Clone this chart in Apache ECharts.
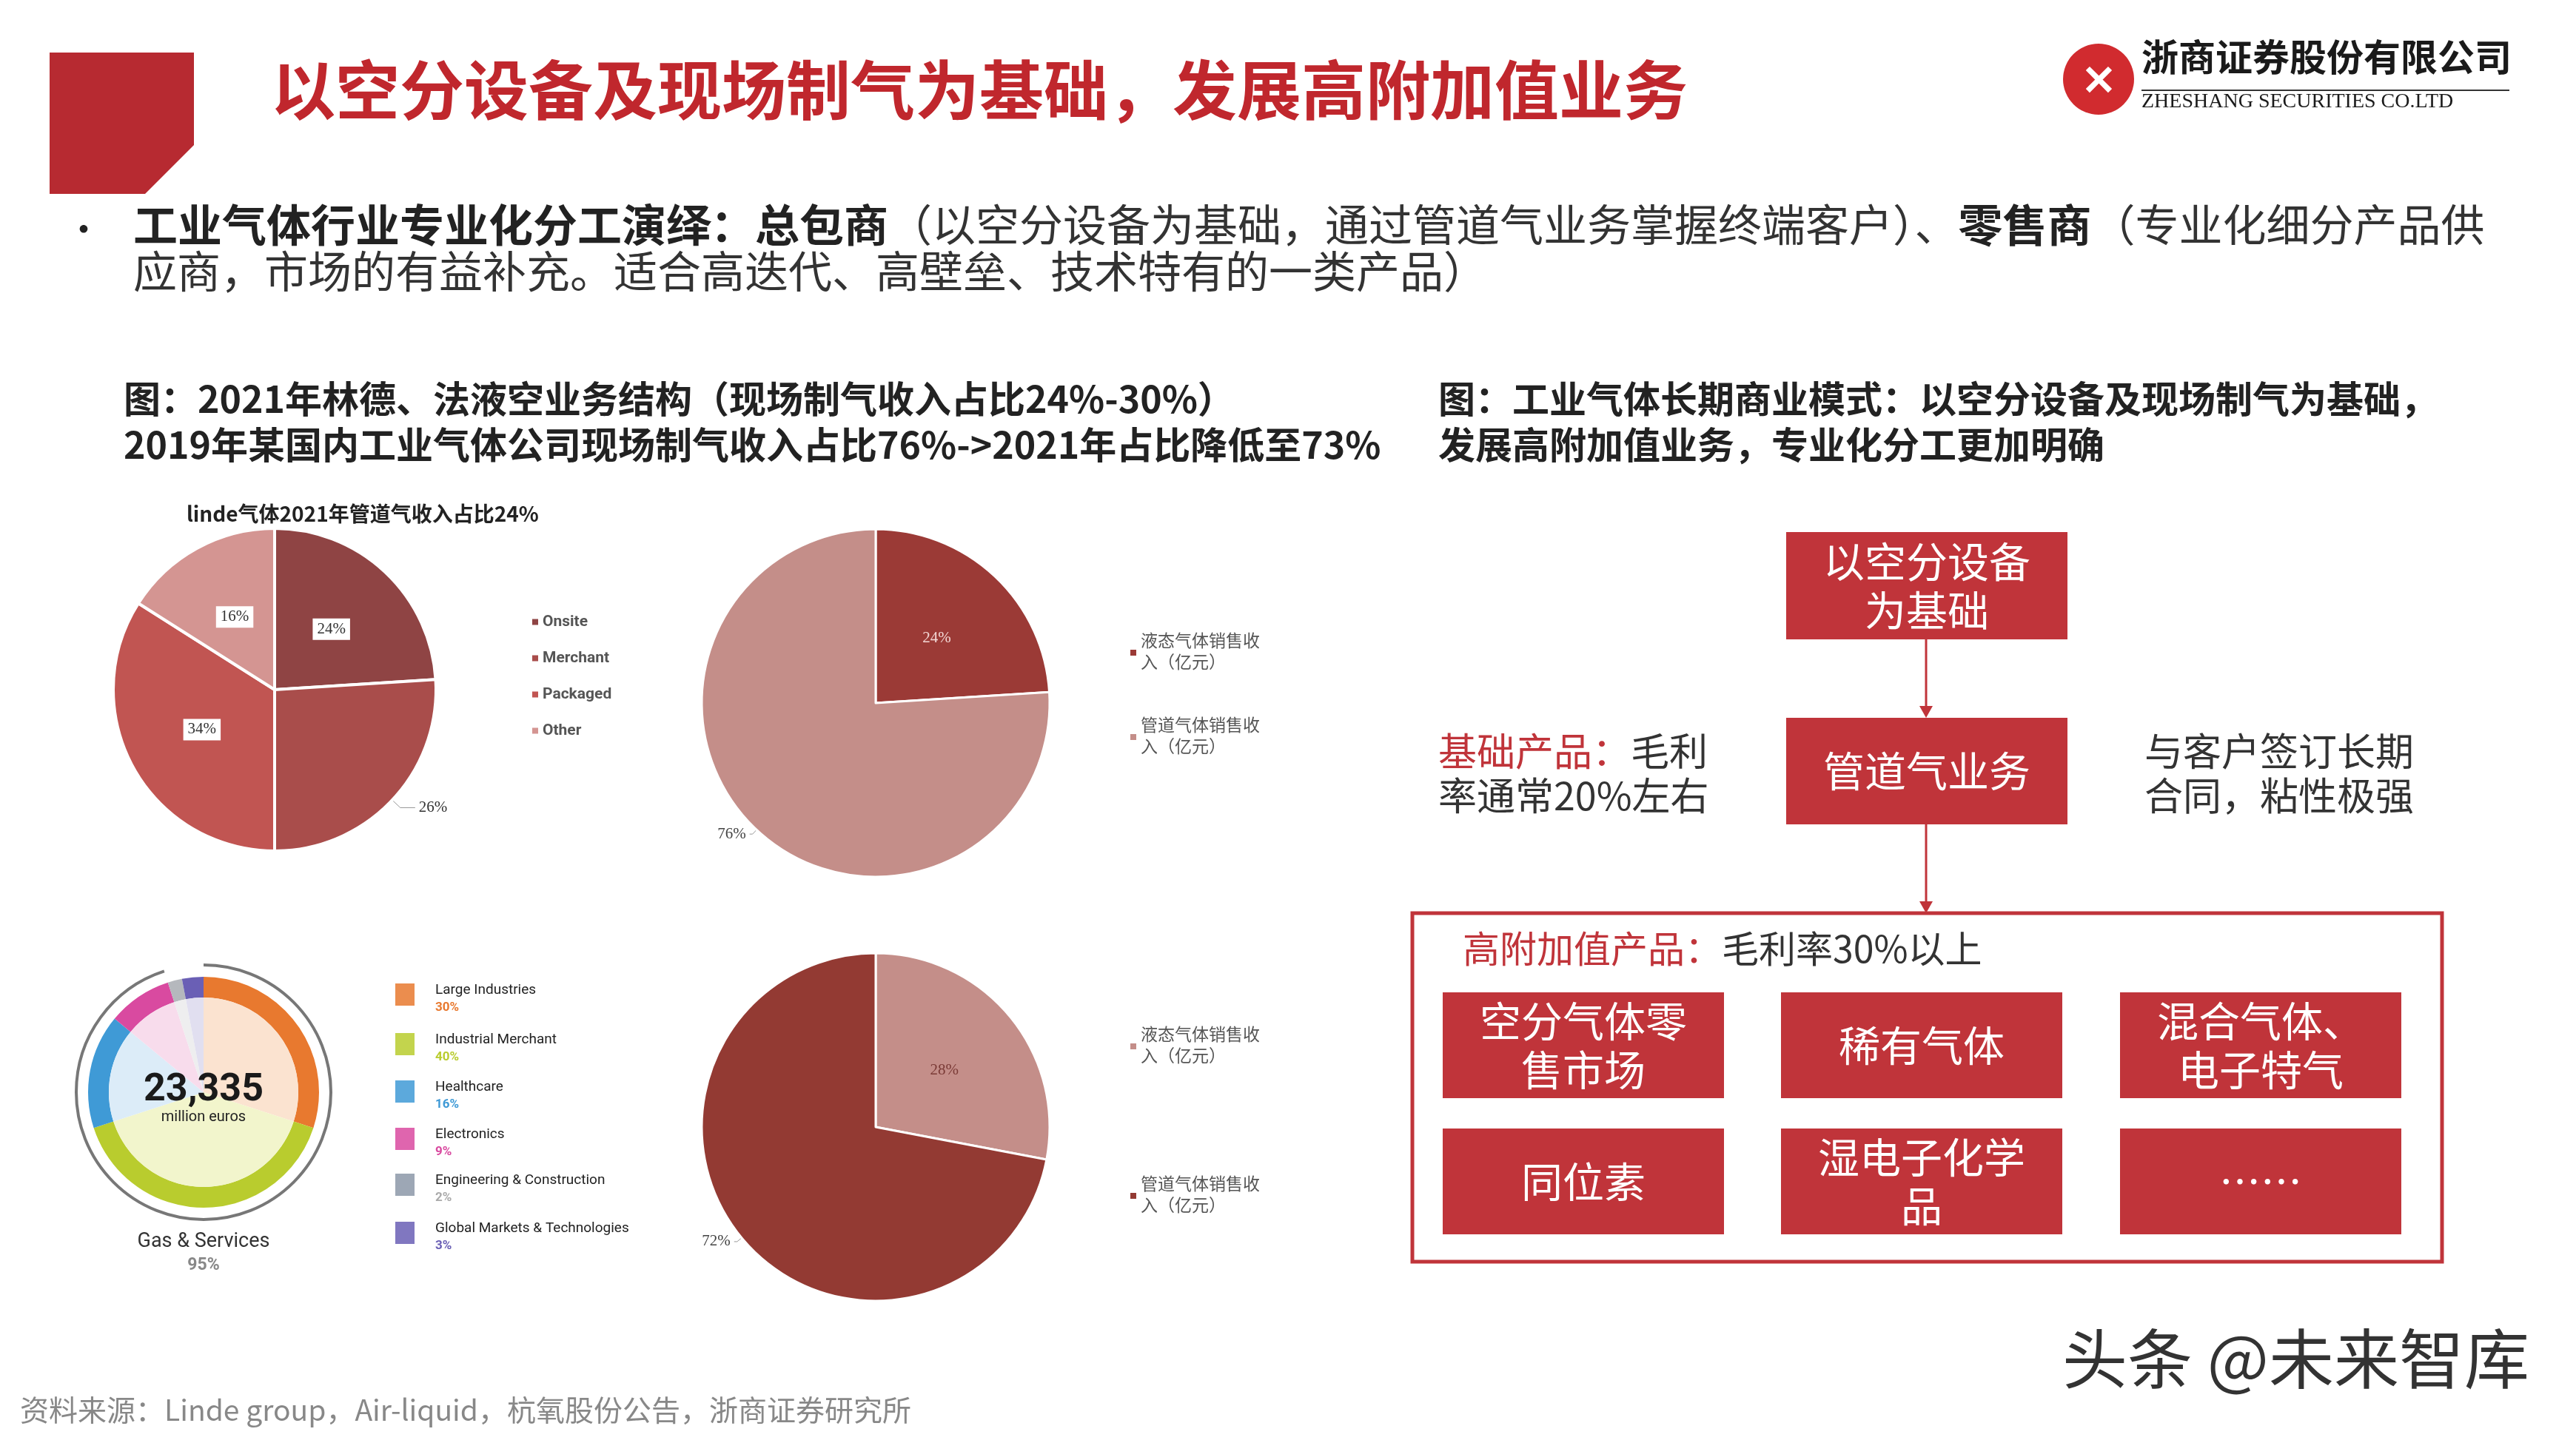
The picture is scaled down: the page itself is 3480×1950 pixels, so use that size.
<!DOCTYPE html>
<html><head><meta charset="utf-8">
<script src="https://cdn.jsdelivr.net/npm/echarts@6/dist/echarts.min.js"></script>
<style>html,body{margin:0;padding:0;background:#fff}#c{width:3480px;height:1950px}</style>
</head><body><div id="c"></div>
<script>
const lindeNames=['Onsite','Merchant','Packaged','Other'];
const lindeValues=[24,26,34,16];
const pie2Names=['液态气体销售收\n入（亿元）','管道气体销售收\n入（亿元）'];
const pie2Values=[24,76];
const pie3Names=['液态气体销售收\n入（亿元） ','管道气体销售收\n入（亿元） '];
const pie3Values=[28,72];
const alNames=['Large Industries','Industrial Merchant','Healthcare','Electronics','Engineering & Construction','Global Markets & Technologies'];
const alValues=[30,40,16,9,2,3];
const subBoxes=['空分气体零\n售市场','稀有气体','混合气体、\n电子特气','同位素','湿电子化学\n品','……'];

const RED='#c0343a';
const cjk='"Noto Sans CJK SC", sans-serif';
const serif='"Liberation Serif", "Noto Sans CJK SC", serif';
const chart=echarts.init(document.getElementById('c'));
const alColors=['#e8792f','#b9cc2e','#3f9ad6','#d94aa0','#b5b8bd','#6a5fb5'];
const alPale=['#fbe3d0','#f2f5cc','#dcecf8','#f8dcec','#eeeeef','#e1dff0'];

const g=[];
g.push({type:'polygon',shape:{points:[[67,71],[262,71],[262,196],[196,262],[67,262]]},style:{fill:'#b72a31'}});
g.push({type:'text',left:366,top:78,style:{text:'以空分设备及现场制气为基础，发展高附加值业务',fill:'#c0272d',font:'bold 87px '+cjk}});
// logo
g.push({type:'circle',shape:{cx:2835,cy:107,r:48},style:{fill:'#d12b2f'}});
g.push({type:'text',x:2835,y:107,style:{text:'✕',fill:'#fff',font:'bold 56px '+cjk,align:'center',verticalAlign:'middle'}});
g.push({type:'text',left:2893,top:58,style:{text:'浙商证券股份有限公司',fill:'#1a1a1a',font:'bold 50px '+serif}});
g.push({type:'line',shape:{x1:2893,y1:122,x2:3390,y2:122},style:{stroke:'#333',lineWidth:2}});
g.push({type:'text',left:2893,top:124,style:{text:'ZHESHANG SECURITIES CO.LTD',fill:'#1a1a1a',font:'28px '+serif}});
// bullet
g.push({type:'text',left:88,top:284,style:{text:'•',fill:'#222',font:'50px '+cjk}});
g.push({type:'text',left:180,top:274,style:{rich:{b:{font:'bold 60px '+cjk,fill:'#222'},n:{font:'59px '+cjk,fill:'#333'}},
 text:'{b|工业气体行业专业化分工演绎：总包商}{n|（以空分设备为基础，通过管道气业务掌握终端客户）、}{b|零售商}{n|（专业化细分产品供}'}});
g.push({type:'text',left:180,top:337,style:{text:'应商，市场的有益补充。适合高迭代、高壁垒、技术特有的一类产品）',fill:'#333',font:'59px '+cjk}});
// headings
g.push({type:'text',left:167,top:508,style:{text:'图：2021年林德、法液空业务结构（现场制气收入占比24%-30%）\n2019年某国内工业气体公司现场制气收入占比76%->2021年占比降低至73%',fill:'#222',font:'bold 50px '+cjk,lineHeight:62}});
g.push({type:'text',left:1943,top:508,style:{text:'图：工业气体长期商业模式：以空分设备及现场制气为基础，\n发展高附加值业务，专业化分工更加明确',fill:'#222',font:'bold 50px '+cjk,lineHeight:62}});
g.push({type:'text',left:252,top:680,style:{text:'linde气体2021年管道气收入占比24%',fill:'#222',font:'bold 28px '+cjk}});
// donut extras
g.push({type:'arc',shape:{cx:275,cy:1476,r:172,startAngle:-Math.PI/2,endAngle:-Math.PI/2+2*Math.PI*0.95},style:{stroke:'#777',lineWidth:4,fill:null}});
g.push({type:'text',z:100,x:275,y:1500,style:{text:'23,335',fill:'#1a1a1a',font:'bold 52px Roboto',align:'center',verticalAlign:'bottom'}});
g.push({type:'text',z:100,x:275,y:1510,style:{text:'million euros',fill:'#222',font:'20px Roboto',align:'center',verticalAlign:'middle'}});
g.push({type:'text',x:275,y:1678,style:{text:'Gas & Services',fill:'#333',font:'27px Roboto',align:'center',verticalAlign:'middle'}});
g.push({type:'text',x:275,y:1710,style:{text:'95%',fill:'#888',font:'bold 23px Roboto',align:'center',verticalAlign:'middle'}});
const alY=[1341,1408,1472,1536,1598,1663];
alNames.forEach((n,i)=>{
 g.push({type:'rect',shape:{x:534,y:alY[i]-12,width:26,height:30},style:{fill:i===4?'#8c98a8':alColors[i],opacity:0.85}});
 g.push({type:'text',left:588,top:alY[i]-12,style:{text:n,fill:'#222',font:'19px Roboto'}});
 g.push({type:'text',left:588,top:alY[i]+12,style:{text:alValues[i]+'%',fill:i===4?'#aaa':alColors[i],font:'bold 17px Roboto'}});
});
// right diagram
function box(x,y,w,h,t){g.push({type:'rect',shape:{x:x,y:y,width:w,height:h},style:{fill:RED}});
 g.push({type:'text',x:x+w/2,y:y+h/2,style:{text:t,fill:'#fff',font:'56px '+cjk,align:'center',verticalAlign:'middle',lineHeight:66}});}
box(2413,719,380,145,'以空分设备\n为基础');
box(2413,970,380,144,'管道气业务');
function arrow(x,y1,y2){g.push({type:'line',shape:{x1:x,y1:y1,x2:x,y2:y2-12},style:{stroke:RED,lineWidth:3}});
 g.push({type:'polygon',shape:{points:[[x-9,y2-16],[x+9,y2-16],[x,y2]]},style:{fill:RED}});}
arrow(2602,864,970);arrow(2602,1114,1234);
g.push({type:'text',left:1943,top:985,style:{rich:{r:{fill:RED,font:'52px '+cjk},k:{fill:'#333',font:'52px '+cjk}},text:'{r|基础产品：}{k|毛利}\n{k|率通常20%左右}',lineHeight:60}});
g.push({type:'text',left:2897,top:985,style:{text:'与客户签订长期\n合同，粘性极强',fill:'#333',font:'52px '+cjk,lineHeight:60}});
g.push({type:'rect',shape:{x:1908,y:1234,width:1391,height:471},style:{fill:null,stroke:RED,lineWidth:5}});
g.push({type:'text',left:1976,top:1257,style:{rich:{r:{fill:RED,font:'50px '+cjk},k:{fill:'#333',font:'50px '+cjk}},text:'{r|高附加值产品：}{k|毛利率30%以上}'}});
const bx=[1949,2406,2864],by=[1341,1525];
subBoxes.forEach((t,i)=>box(bx[i%3],by[Math.floor(i/3)],380,143,t));
g.push({type:'text',left:27,top:1886,style:{text:'资料来源：Linde group，Air-liquid，杭氧股份公告，浙商证券研究所',fill:'#888',font:'39px '+cjk}});
g.push({type:'text',left:2786,top:1792,style:{text:'头条 @未来智库',fill:'#333',font:'88px '+cjk}});

const lblBox={show:true,position:'inside',color:'#333',fontFamily:serif,fontSize:21,backgroundColor:'#fff',padding:[4,6],formatter:'{d}%'};
chart.setOption({
 animation:false,
 graphic:g,
 legend:[
  {data:lindeNames,left:712,top:825,orient:'vertical',itemWidth:10,itemHeight:10,itemGap:28,icon:'rect',textStyle:{fontSize:21,fontWeight:'bold',color:'#555',fontFamily:'"Liberation Sans Narrow", Roboto'}},
  {data:pie2Names,left:1520,top:848,orient:'vertical',itemWidth:10,itemHeight:10,itemGap:56,icon:'rect',textStyle:{fontSize:23,color:'#555',fontFamily:serif,lineHeight:29}},
  {data:pie3Names,left:1520,top:1380,orient:'vertical',itemWidth:10,itemHeight:10,itemGap:144,icon:'rect',textStyle:{fontSize:23,color:'#555',fontFamily:serif,lineHeight:29}}
 ],
 series:[
  {type:'pie',center:[371,932],radius:218,startAngle:90,clockwise:true,itemStyle:{borderColor:'#fff',borderWidth:4},
   label:lblBox,
   data:lindeNames.map((n,i)=>({name:n,value:lindeValues[i],itemStyle:{color:['#8f4444','#a94d4b','#c15552','#d49592'][i]},
     label:i===1?{position:'outside',backgroundColor:'transparent',padding:0}:{}})),
   labelLine:{show:true,length:15,length2:20,lineStyle:{color:'#999'}}},
  {type:'pie',center:[1183,950],radius:235,startAngle:90,itemStyle:{borderColor:'#fff',borderWidth:3},
   data:pie2Names.map((n,i)=>({name:n,value:pie2Values[i],itemStyle:{color:['#9b3a36','#c48e89'][i]},
     label:i===0?{position:'inside',color:'#f3d7d4'}:{position:'outside',color:'#444'}})),
   label:{show:true,fontFamily:serif,fontSize:21,formatter:'{d}%'},labelLine:{show:true,length:8,length2:4,lineStyle:{color:'#999'}}},
  {type:'pie',center:[1183,1523],radius:235,startAngle:90,itemStyle:{borderColor:'#fff',borderWidth:3},
   data:pie3Names.map((n,i)=>({name:n,value:pie3Values[i],itemStyle:{color:['#c48e89','#933a33'][i]},
     label:i===0?{position:'inside',color:'#7a3a36'}:{position:'outside',color:'#444'}})),
   label:{show:true,fontFamily:serif,fontSize:21,formatter:'{d}%'},labelLine:{show:true,length:8,length2:4,lineStyle:{color:'#999'}}},
  {type:'pie',center:[275,1476],radius:[128,156],startAngle:90,silent:true,label:{show:false},z:1,
   data:alValues.map((v,i)=>({value:v,name:'o'+i,itemStyle:{color:alColors[i]}}))},
  {type:'pie',center:[275,1476],radius:[0,128],startAngle:90,silent:true,label:{show:false},z:1,
   data:alValues.map((v,i)=>({value:v,name:'p'+i,itemStyle:{color:alPale[i]}}))}
 ]
});
</script></body></html>
